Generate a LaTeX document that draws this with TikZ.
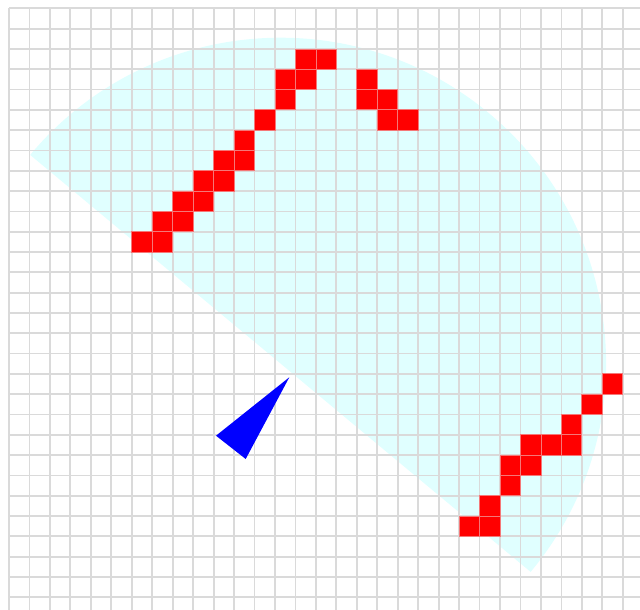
\documentclass[tikz,border=0pt]{standalone}
\definecolor{fovcyan}{RGB}{224,255,255}
\definecolor{gridgray}{RGB}{218,218,218}
\definecolor{cellred}{RGB}{255,0,0}
\definecolor{celledge}{RGB}{245,120,120}
\definecolor{agentblue}{RGB}{0,0,255}
\tikzset{
  fov/.style={fill=fovcyan},
  gridline/.style={draw=gridgray, line width=1.8pt},
  wallcell/.style={fill=cellred, draw=celledge, line width=0.8pt},
  agent/.style={fill=agentblue}
}
\begin{document}
\begin{tikzpicture}[x=1pt, y=-1pt]
  \clip (0,0) rectangle (640,610);
  \fill[white] (0,0) rectangle (640,610);
  % field of view (half disc)
  \fill[fov] (280.4,363.4) ++(-140.2:325.7) arc[start angle=-140.2, end angle=39.8, radius=325.7] -- cycle;
  \begin{scope}[shift={(9,8.3)}, x=20.46pt, y=-20.31pt]
    \foreach \i in {0,...,31} \draw[gridline] (\i,0) -- (\i,30);
    \foreach \j in {0,...,30} \draw[gridline] (0,\j) -- (32,\j);
    \foreach \i/\j in {14/2,15/2,13/3,14/3,13/4,12/5,11/6,10/7,11/7,9/8,10/8,8/9,9/9,7/10,8/10,6/11,7/11,
                       17/3,17/4,18/4,18/5,19/5,
                       29/18,28/19,27/20,25/21,26/21,27/21,24/22,25/22,24/23,23/24,22/25,23/25}
      \draw[wallcell] (\i,\j) rectangle ++(1,1);
  \end{scope}
  % agent
  \coordinate (tip) at (289.3,377.3);
  \coordinate (left) at (216,435.7);
  \coordinate (bottom) at (245.7,459);
  \fill[agent] (tip) -- (left) -- (bottom) -- cycle;
\end{tikzpicture}
\end{document}
